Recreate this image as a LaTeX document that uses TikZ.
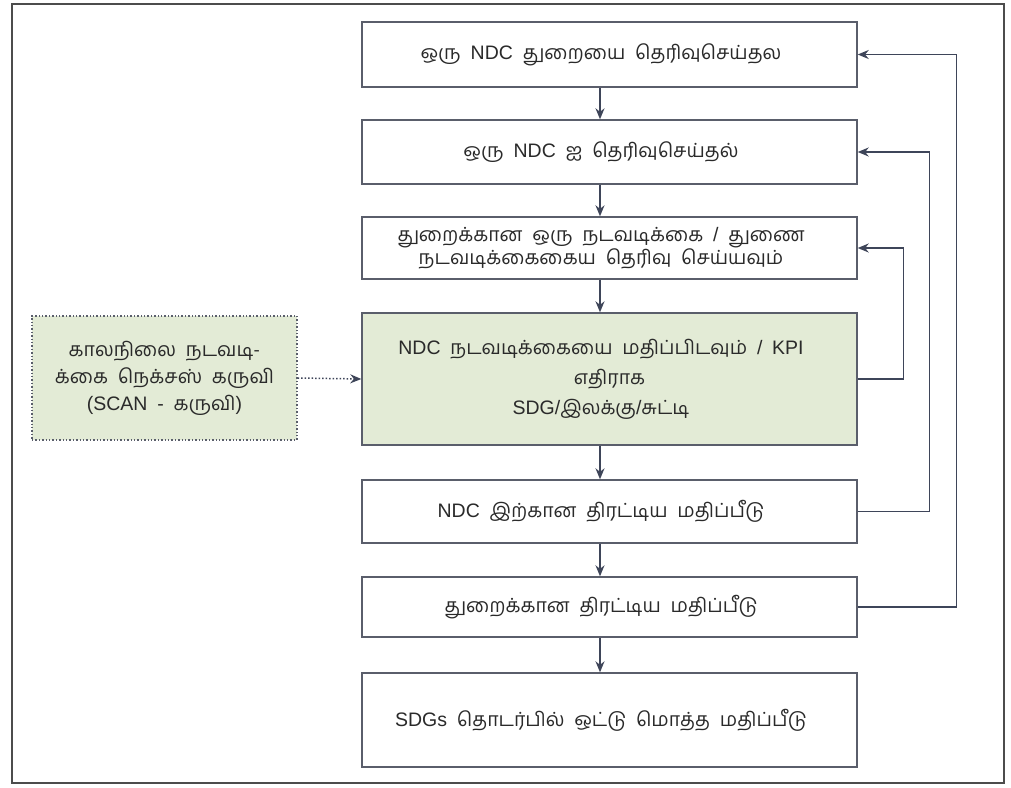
\documentclass[tikz,border=0pt]{standalone}
\usepackage{fontspec}
\setmainfont{Liberation Sans}
\newfontfamily\ta[Script=Tamil]{Hind Madurai}
\usetikzlibrary{arrows.meta,calc}
\definecolor{edge}{HTML}{5A5E6B}
\definecolor{arrowc}{HTML}{3E4559}
\definecolor{greenfill}{HTML}{E3EBD6}
\definecolor{textc}{HTML}{2A2A2A}
\newcommand{\wsp}{\spaceskip=0.5em plus 0.1em\relax}
\newcommand{\Ln}[1]{#1\hspace*{17pt}}
\tikzset{
  x=1pt,y=-1pt,
  stepbox/.style={draw=edge,line width=1.4pt,fill=white,minimum width=495pt,
    inner sep=0pt,align=center,text=textc,font=\fontsize{19.5}{23}\selectfont\wsp},
  greenbox/.style={stepbox,fill=greenfill,font=\fontsize{19.5}{30}\selectfont\wsp},
  toolbox/.style={draw=edge,line width=1.4pt,dotted,fill=greenfill,minimum width=265pt,
    minimum height=124pt,inner sep=0pt,align=center,text=textc,
    font=\fontsize{19.5}{27}\selectfont\wsp},
  arr/.style={draw=arrowc,line width=1.5pt,-{Stealth[length=11pt,width=9pt]}},
  darr/.style={arr,dotted},
}
\begin{document}
\begin{tikzpicture}
\useasboundingbox (0,0) rectangle (1011,787);
\fill[white] (0,0) rectangle (1011,787);
\draw[line width=2pt,color=black!70] (12,4) rectangle (1004,783);

\node[stepbox,minimum height=65pt] (b1) at (609.5,54.5)
  {\Ln{{\ta ஒரு} NDC {\ta துறையை தெரிவுசெய்தல}}};
\node[stepbox,minimum height=64pt] (b2) at (609.5,152)
  {\Ln{{\ta ஒரு} NDC {\ta ஐ தெரிவுசெய்தல்}}};
\node[stepbox,minimum height=62pt] (b3) at (609.5,248)
  {\Ln{{\ta துறைக்கான ஒரு நடவடிக்கை} / {\ta துணை}}\\\Ln{{\ta நடவடிக்கைகைய தெரிவு செய்யவும்}}};
\node[greenbox,minimum height=132pt] (b4) at (609.5,379)
  {\Ln{NDC {\ta நடவடிக்கையை மதிப்பிடவும்} / KPI}\\\Ln{{\ta எதிராக}}\\\Ln{SDG/{\ta இலக்கு}/{\ta சுட்டி}}};
\node[stepbox,minimum height=63pt] (b5) at (609.5,511.5)
  {\Ln{NDC {\ta இற்கான திரட்டிய மதிப்பீடு}}};
\node[stepbox,minimum height=60pt] (b6) at (609.5,607)
  {\Ln{{\ta துறைக்கான திரட்டிய மதிப்பீடு}}};
\node[stepbox,minimum height=94pt] (b7) at (609.5,720)
  {\Ln{SDGs {\ta தொடர்பில் ஒட்டு மொத்த மதிப்பீடு}}};
\node[toolbox] (tool) at (164.5,378)
  {{\ta காலநிலை நடவடி-}\\{\ta க்கை நெக்சஸ் கருவி}\\(SCAN - {\ta கருவி})};

\draw[arr] ([xshift=-9.5pt]b1.south) -- ([xshift=-9.5pt]b2.north);
\draw[arr] ([xshift=-9.5pt]b2.south) -- ([xshift=-9.5pt]b3.north);
\draw[arr] ([xshift=-9.5pt]b3.south) -- ([xshift=-9.5pt]b4.north);
\draw[arr] ([xshift=-9.5pt]b4.south) -- ([xshift=-9.5pt]b5.north);
\draw[arr] ([xshift=-9.5pt]b5.south) -- ([xshift=-9.5pt]b6.north);
\draw[arr] ([xshift=-9.5pt]b6.south) -- ([xshift=-9.5pt]b7.north);

\draw[darr] (tool.east) -- (b4.west);

\draw[arr] (b4.east) -- ++(46,0) |- (b3.east);
\draw[arr] (b5.east) -- ++(72,0) |- (b2.east);
\draw[arr] (b6.east) -- ++(99,0) |- (b1.east);
\end{tikzpicture}
\end{document}
